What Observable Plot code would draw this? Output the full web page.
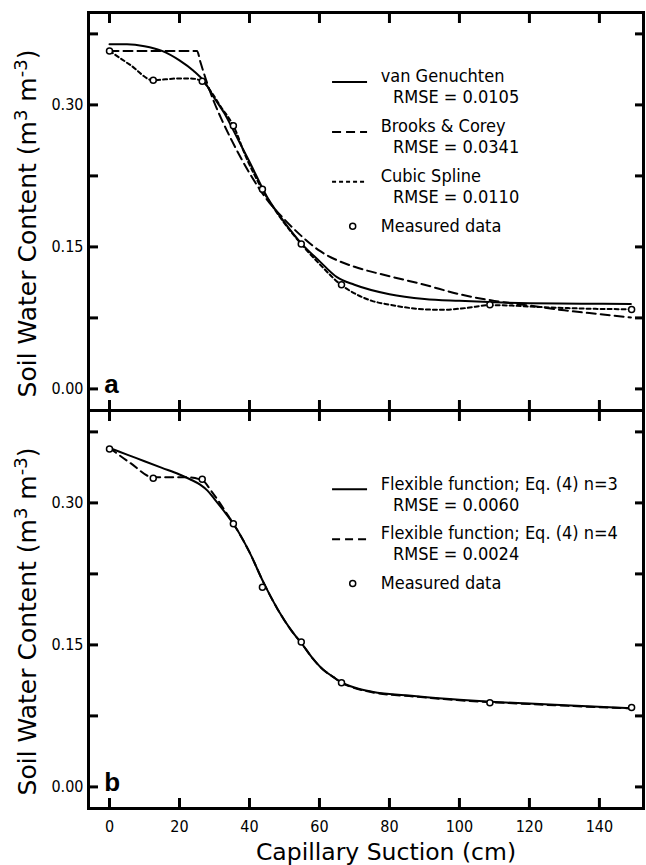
<!DOCTYPE html>
<html><head><meta charset="utf-8">
<script src="https://cdn.jsdelivr.net/npm/d3@7"></script>
<script src="https://cdn.jsdelivr.net/npm/@observablehq/plot@0.6"></script>
<style>body{margin:0;background:#fff}</style>
</head><body><div id="chart"></div>
<script>
// ---- axis ticks ----
const xTicks = [0, 20, 40, 60, 80, 100, 120, 140];
const yTicks = [0, 0.075, 0.15, 0.225, 0.30, 0.375];
const yLabelTicks = [0, 0.15, 0.30];

// ---- measured data (both panels) ----
const measX = [0, 12.5, 26.5, 35.4, 43.7, 54.8, 66.3, 108.7, 149.2];
const measY = [0.357, 0.326, 0.325, 0.278, 0.211, 0.153, 0.110, 0.089, 0.084];

// ---- panel a curves ----
const vgX = [0, 5, 10, 15, 20, 24, 27, 30, 33, 35, 40, 45, 50, 55, 60, 65, 70, 80, 90, 100, 110, 120, 135, 149];
const vgY = [0.364, 0.364, 0.362, 0.357, 0.347, 0.336, 0.325, 0.307, 0.290, 0.276, 0.240, 0.203, 0.176, 0.153, 0.135, 0.118, 0.110, 0.100, 0.095, 0.093, 0.0915, 0.0905, 0.090, 0.0897];
const bcX = [0, 25, 26, 28, 30, 32, 35, 40, 45, 50, 55, 60, 65, 70, 80, 90, 100, 110, 120, 130, 140, 149];
const bcY = [0.357, 0.357, 0.345, 0.322, 0.302, 0.285, 0.262, 0.228, 0.200, 0.179, 0.161, 0.146, 0.136, 0.129, 0.119, 0.110, 0.100, 0.093, 0.088, 0.083, 0.079, 0.0755];
const csX = [0, 6, 12.5, 16, 20, 23, 26.5, 29, 32, 35.4, 39, 43.6, 49, 54.8, 60, 66.3, 70, 75, 80, 87, 95, 102, 108.7, 115, 120, 130, 140, 149.2];
const csY = [0.357, 0.342, 0.326, 0.327, 0.328, 0.328, 0.325, 0.314, 0.297, 0.278, 0.245, 0.211, 0.180, 0.153, 0.132, 0.1096, 0.101, 0.093, 0.089, 0.085, 0.0835, 0.0855, 0.0885, 0.088, 0.087, 0.0855, 0.0845, 0.0842];

// ---- panel b curves ----
const f3X = [0, 5, 10, 15, 20, 23, 26, 28, 30, 33, 35.4, 40, 44, 48, 52, 55, 58, 61, 64, 66.3, 70, 75, 87, 100, 109, 120, 135, 149.2];
const f3Y = [0.358, 0.351, 0.344, 0.337, 0.330, 0.325, 0.319, 0.313, 0.304, 0.290, 0.278, 0.248, 0.216, 0.188, 0.165, 0.151, 0.136, 0.124, 0.116, 0.1105, 0.105, 0.1005, 0.096, 0.092, 0.090, 0.088, 0.0855, 0.083];
const f4X = [0, 6, 12.5, 17, 22, 26.5, 29, 31.5, 34, 35.4, 40, 44, 48, 52, 55, 58, 61, 64, 66.3, 70, 75, 87, 100, 109, 120, 135, 149.2];
const f4Y = [0.358, 0.342, 0.327, 0.327, 0.327, 0.324, 0.313, 0.300, 0.286, 0.278, 0.248, 0.216, 0.188, 0.165, 0.151, 0.136, 0.124, 0.116, 0.110, 0.1045, 0.100, 0.0955, 0.0915, 0.0895, 0.0875, 0.085, 0.083];

// ---- texts ----
const legendA = ["van Genuchten", "Brooks & Corey", "Cubic Spline"];
const rmseA = ["RMSE = 0.0105", "RMSE = 0.0341", "RMSE = 0.0110"];
const legendB = ["Flexible function; Eq. (4) n=3", "Flexible function; Eq. (4) n=4"];
const rmseB = ["RMSE = 0.0060", "RMSE = 0.0024"];
const measuredLabel = "Measured data";
const panelLetters = ["a", "b"];
const xTitle = "Capillary Suction (cm)";
const yTitle = "Soil Water Content (m3 m-3)";

// ---- build tables ----
const zip = (xs, ys, panel) => xs.map((x, i) => ({x, y: ys[i], panel}));
const series = [
  {panel: "a", data: zip(vgX, vgY, "a"), dash: null},
  {panel: "a", data: zip(bcX, bcY, "a"), dash: "9,5"},
  {panel: "a", data: zip(csX, csY, "a"), dash: "4,3"},
  {panel: "b", data: zip(f3X, f3Y, "b"), dash: null},
  {panel: "b", data: zip(f4X, f4Y, "b"), dash: "8,5"}
];
const meas = [...zip(measX, measY, "a"), ...zip(measX, measY, "b")];

// legend layout (data units)
const legTop = {a: 0.330, b: 0.3202};
const legStep = 0.0527;
const legEntries = [
  ...legendA.map((l, i) => ({panel: "a", i, label: l, rmse: rmseA[i], dash: series[i].dash})),
  ...legendB.map((l, i) => ({panel: "b", i, label: l, rmse: rmseB[i], dash: series[3 + i].dash}))
];
legEntries.forEach(d => { d.y = legTop[d.panel] - d.i * legStep; });
const legMeasured = [
  {panel: "a", label: measuredLabel, y: legTop.a - 3 * legStep},
  {panel: "b", label: measuredLabel, y: legTop.b - 2 * legStep}
];

const FONT = "'DejaVu Sans Condensed', 'DejaVu Sans', sans-serif";
const FONT_R = "'DejaVu Sans', sans-serif";

const marks = [
  Plot.frame({strokeWidth: 3}),
  Plot.axisX({anchor: "top", ticks: xTicks, tickSize: -10, strokeWidth: 3, fill: "none", label: null, facetAnchor: null}),
  Plot.axisX({anchor: "bottom", ticks: xTicks, tickSize: -10, strokeWidth: 3, fill: "none", label: null, facetAnchor: null}),
  Plot.axisX({anchor: "bottom", ticks: xTicks, tickSize: 0, tickPadding: 12, label: null, fontSize: 16, fontFamily: FONT}),
  Plot.axisY({anchor: "left", ticks: yTicks, tickSize: -10, strokeWidth: 3, fill: "none", label: null, facetAnchor: null}),
  Plot.axisY({anchor: "right", ticks: yTicks, tickSize: -9, strokeWidth: 3, fill: "none", label: null, facetAnchor: null}),
  Plot.axisY({anchor: "left", ticks: yLabelTicks, tickSize: 0, tickPadding: 5, tickFormat: d3.format(".2f"), label: null, fontSize: 16, fontFamily: FONT, facetAnchor: null}),
  ...series.map(s => Plot.line(s.data, {x: "x", y: "y", fy: "panel", stroke: "black", strokeWidth: 2, strokeDasharray: s.dash, curve: "monotone-x"})),
  Plot.dot(meas, {x: "x", y: "y", fy: "panel", r: 3, stroke: "black", strokeWidth: 1.5, fill: "white"}),
  // legend
  ...legEntries.map(d => Plot.link([d], {x1: 63.6, x2: 73.6, y1: e => e.y - 0.0058, y2: e => e.y - 0.0058, fy: "panel", stroke: "black", strokeWidth: 2, strokeDasharray: d.dash})),
  Plot.text(legEntries, {x: 77.5, y: "y", text: "label", fy: "panel", textAnchor: "start", fontSize: 18, fontFamily: FONT}),
  Plot.text(legEntries, {x: 81, y: d => d.y - 0.0222, text: "rmse", fy: "panel", textAnchor: "start", fontSize: 18, fontFamily: FONT}),
  Plot.dot(legMeasured, {x: 69.5, y: "y", fy: "panel", r: 3, stroke: "black", strokeWidth: 1.5, fill: "white"}),
  Plot.text(legMeasured, {x: 77.5, y: "y", text: "label", fy: "panel", textAnchor: "start", fontSize: 18, fontFamily: FONT}),
  // panel letters
  Plot.text(panelLetters.map(p => ({panel: p, label: p})), {x: -1.5, y: 0, text: "label", fy: "panel", textAnchor: "start", lineAnchor: "bottom", dy: 4, fontSize: 26, fontWeight: "bold", fontFamily: "'Liberation Sans', Arial, sans-serif"}),
  // axis titles
  Plot.text(panelLetters.map(p => ({panel: p, label: yTitle})), {frameAnchor: "left", text: "label", fy: "panel", rotate: -90, dx: -53, dy: 12, lineAnchor: "bottom", textAnchor: "middle", fontSize: 25, fontFamily: FONT_R}),
  Plot.text([{panel: "b", label: xTitle}], {frameAnchor: "bottom", text: "label", fy: "panel", dx: 20, dy: 51, lineAnchor: "bottom", textAnchor: "middle", fontSize: 23.5, fontFamily: FONT_R})
];

const chart = Plot.plot({
  width: 646,
  height: 865,
  marginTop: 12,
  marginBottom: 57,
  marginLeft: 88,
  marginRight: 3,
  style: {fontFamily: FONT, fontSize: "16px", color: "black", background: "white", overflow: "visible"},
  x: {domain: [-6, 152.6], axis: null},
  y: {domain: [-0.0228, 0.3976], axis: null},
  fy: {domain: panelLetters, padding: 0, axis: null},
  marks
});

// superscripts in the y title
d3.select(chart).selectAll("text").filter(function() { return this.textContent === yTitle; }).each(function() {
  const t = d3.select(this);
  t.text("");
  const parts = [["Soil Water Content (m", 0, null], ["3", -9, "18px"], [" m", 9, null], ["-3", -9, "18px"], [")", 9, null]];
  parts.forEach(([s, dy, fs]) => {
    const ts = t.append("tspan").attr("dy", dy).text(s);
    if (fs) ts.attr("font-size", fs);
  });
});

document.getElementById("chart").appendChild(chart);
</script>
</body></html>
